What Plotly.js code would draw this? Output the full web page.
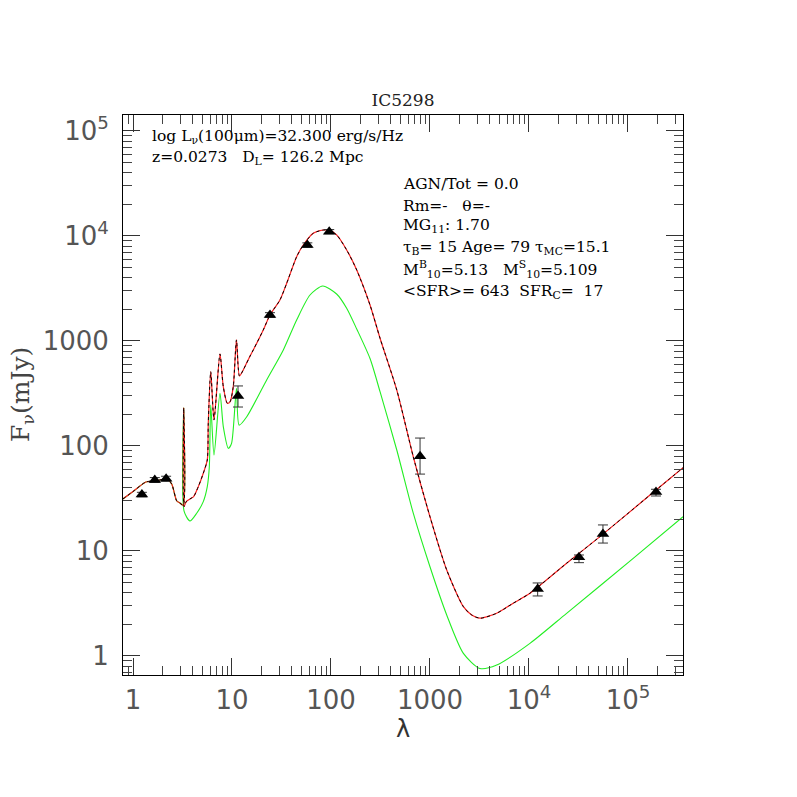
<!DOCTYPE html>
<html>
<head>
<meta charset="utf-8">
<script src="https://cdn.plot.ly/plotly-3.0.1.min.js"></script>
<style>html,body{margin:0;padding:0;background:#fff;}#chart{width:797px;height:797px;}</style>
</head>
<body>
<div id="chart"></div>
<script>
// Total model (red / black)
const lamTot = [0.79,1.0,1.35,1.73,2.19,2.46,2.76,2.98,3.22,3.25,3.28,3.45,3.76,4.1,4.57,5.13,5.63,5.76,6.1,6.58,7.56,8.17,8.97,9.55,10.3,11.1,11.9,13.0,15.1,16.4,20.7,24.2,30.5,35.7,45,52.5,66.2,83.6,95,114,144,182,248,313,462,678,1000,1476,2175,2640,3200,4720,6920,10230,24000,52100,167000,360000];
const fluxTot = [31.3,36.8,45.4,46.7,48.5,43.5,30.1,28.6,27.3,230,26.5,29.5,31.3,33,41,55,73.6,164,510,177,752,367,255,263,367,1023,464,530,708,821,1274,1770,2455,3545,6350,8200,10600,11400,11350,10230,7360,4740,2200,1062,341,79,21.2,6.59,2.95,2.46,2.29,2.55,3.18,3.96,7.64,13.7,34.1,62.1];

// Starburst component (green)
const lamSB = [0.79,1.0,1.35,1.73,2.19,2.46,2.76,2.98,3.22,3.25,3.28,3.76,4.4,5.13,5.63,5.9,6.1,6.58,7.56,8.17,9.2,9.9,11.1,11.8,14.1,22.4,33,45,61.4,82.5,114,144,182,248,313,462,678,1000,1476,2175,3200,4720,10230,24000,113000,360000];
const fluxSB = [31.3,36.8,45.4,46.7,48.5,43.5,30.1,28.6,27.3,230,24,19.3,22.9,29.5,41,63,246,82,318,153,95,106,354,158,190,425,821,1585,2740,3340,2800,2050,1300,680,329,91.6,22.9,7.08,2.46,1.06,0.76,0.82,1.32,2.55,8.5,21.2];

// Observed photometry
const lamObs = [1.23,1.66,2.16,11.5,24.2,57.7,96,794,12240,32000,55900,192000];
const fluxObs = [34.5,47.5,48.8,300,1770,8200,10990,80,4.35,8.71,14.5,36.5];
const fluxHi = [36.2,50,51.5,373,1860,8600,11500,119,4.96,9.16,17.7,38.7];
const fluxLo = [32.8,45,46.2,235,1680,7800,10500,54,3.73,7.74,11.9,33.4];

const tickVals = [1,10,100,1000,1e4,1e5];
const tickText = ["1","10","100","1000","10<sup>4</sup>","10<sup>5</sup>"];

const minorVals = [];
for (let e = -1; e <= 5; e++) for (let d = 2; d <= 9; d++) minorVals.push(d * Math.pow(10, e));

const traces = [
  {x: lamSB, y: fluxSB, mode: 'lines', line: {color: '#22ee22', width: 1.1, shape: 'spline', smoothing: 0.7}, hoverinfo: 'skip'},
  {x: lamTot, y: fluxTot, mode: 'lines', line: {color: '#ff2222', width: 1.2, shape: 'spline', smoothing: 0.7}, hoverinfo: 'skip'},
  {x: lamTot, y: fluxTot, mode: 'lines', line: {color: '#000000', width: 1, dash: '3px,3px', shape: 'spline', smoothing: 0.7}, hoverinfo: 'skip'},
  {x: lamObs, y: fluxObs, mode: 'markers',
   marker: {symbol: 'triangle-up', size: 11, color: '#000'},
   error_y: {type: 'data', symmetric: false,
     array: fluxHi.map((v, i) => v - fluxObs[i]),
     arrayminus: fluxObs.map((v, i) => v - fluxLo[i]),
     color: '#333', thickness: 1, width: 5}}
];

const axisCommon = {
  type: 'log', showgrid: false, zeroline: false,
  showline: true, linecolor: '#000', linewidth: 1, mirror: 'allticks',
  ticks: 'inside', ticklen: 17, tickcolor: '#333', tickwidth: 1,
  tickmode: 'array', tickvals: tickVals, ticktext: tickText,
  tickfont: {family: 'DejaVu Sans', size: 26, color: '#555'},
  minor: {ticks: 'inside', ticklen: 9, tickcolor: '#444', tickwidth: 1, tickmode: 'array', tickvals: minorVals, showgrid: false}
};

const fnt = {family: 'DejaVu Serif', size: 15.5, color: '#000'};
const px = v => (v - 123) / 560;
const py = v => (675 - v) / 560;
const nb = '\u00A0';
const ann = (text, x, y) => ({text, xref: 'paper', yref: 'paper', x: px(x), y: py(y), xanchor: 'left', yanchor: 'middle', showarrow: false, font: fnt});

const layout = {
  width: 797, height: 797,
  margin: {l: 123, r: 114, t: 115, b: 122},
  paper_bgcolor: '#fff', plot_bgcolor: '#fff',
  showlegend: false,
  title: {text: 'IC5298', x: 0.5, xref: 'paper', y: 1 - 100/797, yref: 'container', yanchor: 'middle', font: {family: 'DejaVu Serif', size: 17, color: '#222'}},
  xaxis: Object.assign({}, axisCommon, {range: [-0.101, 5.556], ticklabelstandoff: 2,
    title: {text: 'λ', standoff: 4, font: {family: 'DejaVu Sans', size: 24, color: '#333'}}}),
  yaxis: Object.assign({}, axisCommon, {range: [-0.181, 5.152], ticklabelstandoff: 8}),
  annotations: [
    {text: 'F<sub>ν</sub>(mJy)', xref: 'paper', yref: 'paper', x: px(22), y: py(395), xanchor: 'center', yanchor: 'middle', textangle: -90, showarrow: false, font: {family: 'DejaVu Serif', size: 25, color: '#444'}},
    ann('log L<sub>ν</sub>(100μm)=32.300 erg/s/Hz', 150, 137),
    ann('z=0.0273' + nb+nb+nb + 'D<sub>L</sub>= 126.2 Mpc', 150, 158),
    ann('AGN/Tot = 0.0', 401, 184),
    ann('Rm=-' + nb+nb+nb + 'θ=-', 401, 205.5),
    ann('MG<sub>11</sub>: 1.70', 401, 226.5),
    ann('τ<sub>B</sub>= 15 Age= 79 τ<sub>MC</sub>=15.1', 401, 247.5),
    ann('M<sup>B</sup><sub>10</sub>=5.13' + nb+nb+nb + 'M<sup>S</sup><sub>10</sub>=5.109', 401, 269.5),
    ann('&lt;SFR&gt;= 643' + nb+nb + 'SFR<sub>C</sub>=' + nb + ' 17', 401, 291.5)
  ]
};

Plotly.newPlot('chart', traces, layout, {displayModeBar: false, staticPlot: true});
</script>
</body>
</html>
